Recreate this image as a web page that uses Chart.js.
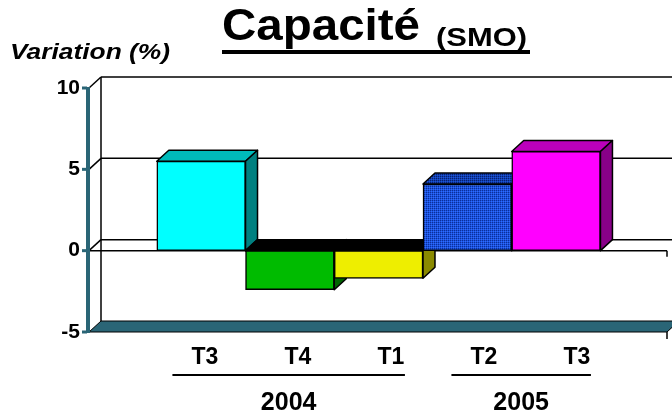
<!DOCTYPE html>
<html>
<head>
<meta charset="utf-8">
<script src="https://cdn.jsdelivr.net/npm/chart.js@4.4.0/dist/chart.umd.min.js"></script>
<style>
    html, body { margin: 0; padding: 0; background: #fff; }
    #wrap { width: 672px; height: 414px; }
</style>
</head>
<body>
<div id="wrap"><canvas id="chart" width="672" height="414"></canvas></div>
<script>
// values
const categories = ['T3', 'T4', 'T1', 'T2', 'T3'];
const variation = [5.5, -2.4, -1.7, 4.1, 6.1];
const yearLabels = ['2004', '2005'];
const yearFirst = [0, 3];
const yearLast = [2, 4];
const yTicks = [-5, 0, 5, 10];

const TEAL = '#2a6576';
const DX = 12, DY = -11;
const FONT = 'Arial, "Liberation Sans", sans-serif';

function gridPattern(dark, mid, light) {
    const c = document.createElement('canvas');
    c.width = 2;
    c.height = 2;
    const g = c.getContext('2d');
    g.fillStyle = light; g.fillRect(0, 0, 2, 2);
    g.fillStyle = mid; g.fillRect(1, 0, 1, 1); g.fillRect(0, 1, 1, 1);
    g.fillStyle = dark; g.fillRect(0, 0, 1, 1);
    return g.createPattern(c, 'repeat');
}

const blueFront = gridPattern('#0c2f9a', '#1b52dc', '#2f6cff');
const blueTop = gridPattern('#071f70', '#1240b0', '#1c55d8');

const faceColors = ['#00ffff', '#00bb00', '#eeee00', blueFront, '#ff00ff'];
const topColors = ['#00baba', '#000000', '#000000', blueTop, '#bb00bb'];
const sideColors = ['#008080', '#006400', '#8a8a00', '#0b2c8a', '#880088'];

function line(ctx, x1, y1, x2, y2) {
    ctx.beginPath();
    ctx.moveTo(x1, y1);
    ctx.lineTo(x2, y2);
    ctx.stroke();
}

function poly(ctx, pts, fill) {
    ctx.beginPath();
    ctx.moveTo(pts[0][0], pts[0][1]);
    for (let i = 1; i < pts.length; i++) ctx.lineTo(pts[i][0], pts[i][1]);
    ctx.closePath();
    ctx.fillStyle = fill;
    ctx.fill();
    ctx.stroke();
}

function stretchText(ctx, text, x, y, width) {
    const w = ctx.measureText(text).width;
    ctx.save();
    ctx.translate(x, y);
    ctx.scale(width / w, 1);
    ctx.fillText(text, 0, 0);
    ctx.restore();
}

const box3d = {
    id: 'box3d',
    beforeDatasetsDraw(chart) {
        const {ctx, chartArea: {left, right, top}, scales: {y}} = chart;
        const bx = left + DX;
        const fy = y.getPixelForValue(y.min);
        const zy = y.getPixelForValue(0);
        ctx.save();
        ctx.strokeStyle = '#000';

        // floor slab
        ctx.lineWidth = 1;
        poly(ctx, [[left, fy], [bx, fy + DY], [right + DX, fy + DY], [right, fy]], TEAL);

        // back wall + gridlines
        ctx.lineWidth = 1.5;
        line(ctx, bx, top + DY, bx, fy + DY);
        yTicks.forEach(v => {
            if (v === y.min) return;
            const py = y.getPixelForValue(v);
            line(ctx, left, py, bx, py + DY);
            line(ctx, bx, py + DY, chart.width, py + DY);
        });

        // front edge of the zero plane
        line(ctx, left, zy, right, zy);
        line(ctx, right, zy, right, zy + 6);
        line(ctx, right, fy, right, fy + 7);

        // top and side faces of the bars
        const meta = chart.getDatasetMeta(0);
        ctx.lineWidth = 1.5;
        ctx.lineJoin = 'round';
        meta.data.forEach((bar, i) => {
            const l = bar.x - bar.width / 2;
            const r = bar.x + bar.width / 2;
            const t = Math.min(bar.y, bar.base);
            const b = Math.max(bar.y, bar.base);
            poly(ctx, [[l, t], [r, t], [r + DX, t + DY], [l + DX, t + DY]], topColors[i]);
            poly(ctx, [[r, t], [r + DX, t + DY], [r + DX, b + DY], [r, b]], sideColors[i]);
        });
        ctx.restore();
    },
    afterDatasetsDraw(chart) {
        const {ctx, chartArea: {left, top, bottom}, scales: {y}} = chart;
        ctx.save();
        ctx.fillStyle = TEAL;
        ctx.fillRect(left - 3, top - 1, 4, bottom - top + 2);
        yTicks.forEach(v => {
            const py = y.getPixelForValue(v);
            ctx.fillRect(left - 7, py - 1.5, 5, 3);
        });
        ctx.restore();
    },
    afterDraw(chart) {
        const {ctx, scales: {xl}} = chart;
        ctx.save();
        ctx.fillStyle = '#000';
        ctx.textBaseline = 'alphabetic';
        ctx.textAlign = 'left';

        // title
        ctx.font = 'bold 44px ' + FONT;
        stretchText(ctx, 'Capacité', 222, 40, 198);
        ctx.font = 'bold 26px ' + FONT;
        stretchText(ctx, '(SMO)', 436, 46, 91);
        ctx.fillRect(222, 50, 308, 4);

        // axis title
        ctx.font = 'italic bold 22px ' + FONT;
        stretchText(ctx, 'Variation (%)', 10, 59, 160);

        // year groups
        ctx.strokeStyle = '#000';
        ctx.lineWidth = 2;
        ctx.textAlign = 'center';
        ctx.font = 'bold 25px ' + FONT;
        yearLabels.forEach((yr, k) => {
            const x1 = xl.getPixelForValue(yearFirst[k] - 0.35);
            const x2 = xl.getPixelForValue(yearLast[k] + 0.15);
            line(ctx, x1, 375, x2, 375);
            ctx.fillText(yr, (x1 + x2) / 2, 410);
        });
        ctx.restore();
    }
};

const data = {
    datasets: [{
        data: variation.map((v, i) => ({x: i, y: v})),
        backgroundColor: faceColors,
        borderColor: '#000',
        borderWidth: 1.5,
        borderSkipped: false,
        barPercentage: 1,
        categoryPercentage: 1,
        xAxisID: 'x',
        yAxisID: 'y'
    }]
};

new Chart(document.getElementById('chart'), {
    type: 'bar',
    data: data,
    options: {
        responsive: false,
        animation: false,
        events: [],
        layout: {padding: {top: 88, right: 5, left: 0, bottom: 0}},
        plugins: {legend: {display: false}, tooltip: {enabled: false}, title: {display: false}},
        scales: {
            x: {
                type: 'linear',
                display: false,
                offset: false,
                min: -1.264,
                max: 5.25
            },
            xl: {
                type: 'linear',
                position: 'bottom',
                offset: false,
                min: -1.247,
                max: 4.968,
                grid: {display: false, drawTicks: false},
                border: {display: false},
                afterBuildTicks: scale => {
                    scale.ticks = categories.map((c, i) => ({value: i}));
                },
                afterFit: scale => { scale.height = 82; },
                ticks: {
                    autoSkip: false,
                    maxRotation: 0,
                    padding: 12,
                    color: '#000',
                    font: {family: FONT, size: 23, weight: 'bold'},
                    callback: v => categories[v]
                }
            },
            y: {
                min: -5,
                max: 10,
                grid: {display: false, drawTicks: false},
                border: {display: false},
                afterBuildTicks: scale => {
                    scale.ticks = yTicks.map(v => ({value: v}));
                },
                afterFit: scale => { scale.width = 89; },
                ticks: {
                    padding: 9,
                    color: '#000',
                    font: {family: FONT, size: 21, weight: 'bold'}
                }
            }
        }
    },
    plugins: [box3d]
});
</script>
</body>
</html>
